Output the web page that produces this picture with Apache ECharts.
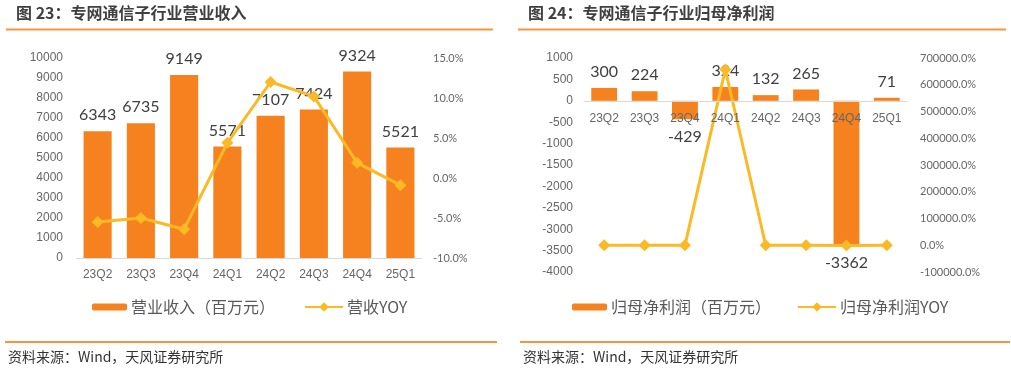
<!DOCTYPE html>
<html><head><meta charset="utf-8">
<script src="https://cdn.jsdelivr.net/npm/echarts@6/dist/echarts.min.js"></script>
<style>html,body{margin:0;padding:0;background:#fff}#c{width:1011px;height:372px}</style>
</head><body><div id="c"></div>
<script>
const categories = ['23Q2','23Q3','23Q4','24Q1','24Q2','24Q3','24Q4','25Q1'];
const revenue = [6343, 6735, 9149, 5571, 7107, 7424, 9324, 5521];
const revenueYoy = [-5.5, -5.0, -6.4, 4.4, 12.0, 10.2, 1.9, -0.9];
const profit = [300, 224, -429, 324, 132, 265, -3362, 71];
const profitYoy = [-60, -40, -180, 657000, -56, 18, -684, -78];
const leftTitle = '图 23：专网通信子行业营业收入';
const rightTitle = '图 24：专网通信子行业归母净利润';
const sourceText = '资料来源：Wind，天风证券研究所';
const legendNames = ['营业收入（百万元）','营收YOY','归母净利润（百万元）','归母净利润YOY'];

const ORANGE = '#F5821F', YELLOW = '#FBBA25', AXIS = '#D9D9D9', LBL = '#666666';
const CJK = '"Noto Sans CJK SC", sans-serif';
const NUM = 'Lato, "Liberation Sans", sans-serif';
const ARIAL = '"Liberation Sans", Arial, sans-serif';

const chart = echarts.init(document.getElementById('c'), null, {renderer:'canvas'});

// right grid: value range of profit axis
const pMin = -4000, pMax = 1000, pH = 214;
const zeroOffset = -pH * (0 - pMin) / (pMax - pMin);

function xAx(gi, margin, offset){
  return {type:'category', gridIndex:gi, data:categories, z:10, position:'bottom', offset:offset,
    axisLine:{onZero:false, lineStyle:{color:AXIS, width:1}}, axisTick:{show:false},
    axisLabel:{color:LBL, fontSize:12, fontFamily:ARIAL, margin:margin}};
}
function yAx(gi, min, max, interval, margin, fmt, font, size){
  return {type:'value', gridIndex:gi, min:min, max:max, interval:interval,
    splitLine:{show:false}, axisLine:{show:false}, axisTick:{show:false},
    axisLabel:{color:LBL, fontSize:size, fontFamily:font, margin:margin, formatter:fmt}};
}
const pctFmt = v => v.toFixed(1) + '%';

function leg(name, left, w, h){
  return {left:left, top:299, padding:0, itemWidth:w, itemHeight:h, itemGap:0,
    textStyle:{color:'#595959', fontSize:16, fontFamily:CJK, padding:[0,0,0,-1]},
    data:[name]};
}

const labelStyle = {show:true, color:'#404040', fontSize:16, fontFamily:NUM, distance:8};

chart.setOption({
  animation:false,
  grid:[
    {left:76, top:58, width:346, height:200},
    {left:584, top:58, width:323, height:pH}
  ],
  xAxis:[xAx(0,11,0), xAx(1,12,zeroOffset)],
  yAxis:[
    yAx(0, 0, 10000, 1000, 13, v=>v, ARIAL, 12),
    Object.assign(yAx(0, -10, 15, 5, 11, pctFmt, NUM, 11), {position:'right'}),
    yAx(1, pMin, pMax, 500, 11, v=>v, ARIAL, 12),
    Object.assign(yAx(1, -100000, 700000, 100000, 13, pctFmt, NUM, 11), {position:'right'})
  ],
  legend:[
    leg(legendNames[0], 92, 35, 7),
    leg(legendNames[1], 304, 38, 12),
    leg(legendNames[2], 572, 35, 7),
    leg(legendNames[3], 797, 38, 12)
  ],
  series:[
    {name:legendNames[0], type:'bar', xAxisIndex:0, yAxisIndex:0, data:revenue,
     barWidth:'65%', itemStyle:{color:ORANGE}, label:Object.assign({position:'top'}, labelStyle), z:2},
    {name:legendNames[1], type:'line', xAxisIndex:0, yAxisIndex:1, data:revenueYoy,
     symbol:'diamond', symbolSize:12, lineStyle:{color:YELLOW, width:3},
     itemStyle:{color:YELLOW}, z:5},
    {name:legendNames[2], type:'bar', xAxisIndex:1, yAxisIndex:2,
     data:profit.map(v => ({value:v, label:{position: v < 0 ? 'bottom' : 'top', distance: v < 0 ? 10 : 8}})),
     barWidth:'64%', itemStyle:{color:ORANGE}, label:labelStyle, z:2},
    {name:legendNames[3], type:'line', xAxisIndex:1, yAxisIndex:3, data:profitYoy,
     symbol:'diamond', symbolSize:12, lineStyle:{color:YELLOW, width:3},
     itemStyle:{color:YELLOW}, z:5}
  ],
  graphic:[
    {type:'text', left:16, top:5, style:{text:leftTitle, fill:'#404040', font:'bold 16px '+CJK}},
    {type:'text', left:528, top:5, style:{text:rightTitle, fill:'#404040', font:'bold 16px '+CJK}},
    {type:'line', shape:{x1:6, y1:29.5, x2:493, y2:29.5}, style:{stroke:'#F5963C', lineWidth:2}},
    {type:'line', shape:{x1:518, y1:29.5, x2:1006, y2:29.5}, style:{stroke:'#F5963C', lineWidth:2}},
    {type:'line', shape:{x1:5, y1:342, x2:497, y2:342}, style:{stroke:'#F5963C', lineWidth:2}},
    {type:'line', shape:{x1:520, y1:342, x2:1010, y2:342}, style:{stroke:'#F5963C', lineWidth:2}},
    {type:'text', left:8, top:350, style:{text:sourceText, fill:'#333', font:'14px '+CJK}},
    {type:'text', left:523, top:350, style:{text:sourceText, fill:'#333', font:'14px '+CJK}}
  ]
});
</script></body></html>
